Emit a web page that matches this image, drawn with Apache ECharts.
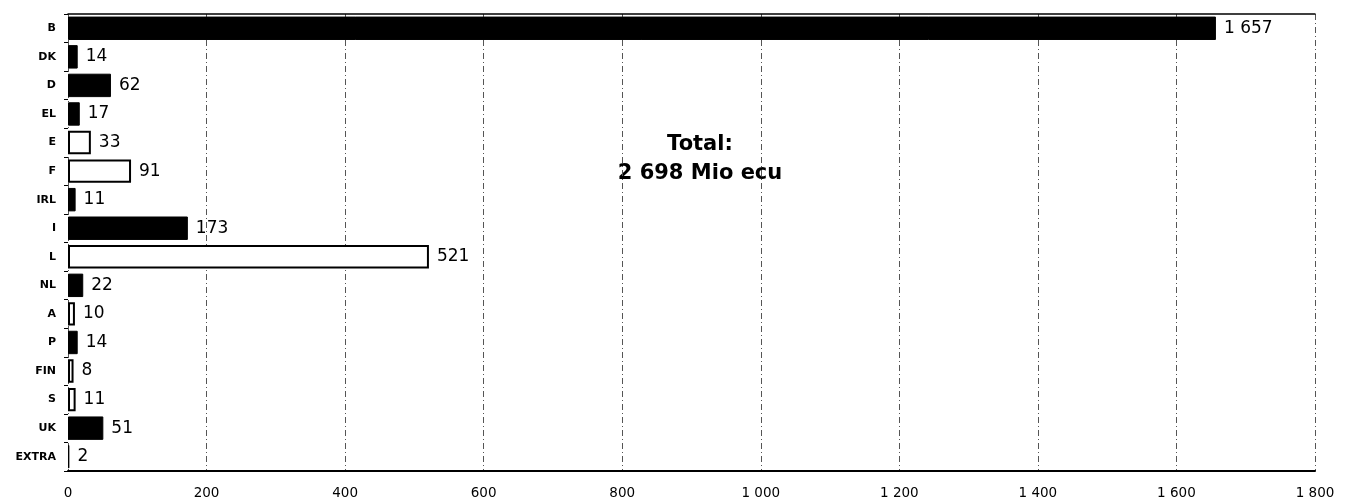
<!DOCTYPE html>
<html>
<head>
<meta charset="utf-8">
<script src="https://cdn.jsdelivr.net/npm/echarts@6/dist/echarts.min.js"></script>
<style>
html,body{margin:0;padding:0;background:#fff;}
#chart{width:1354px;height:502px;}
</style>
</head>
<body>
<div id="chart"></div>
<script>
// Data
var categories = ['B','DK','D','EL','E','F','IRL','I','L','NL','A','P','FIN','S','UK','EXTRA'];
var values = [1657, 14, 62, 17, 33, 91, 11, 173, 521, 22, 10, 14, 8, 11, 51, 2];
var hollowCategories = ['E','F','L','A','FIN','S'];
var xTicks = [0, 200, 400, 600, 800, 1000, 1200, 1400, 1600, 1800];
var totalLines = ['Total:', '2 698 Mio ecu'];

function fmt(v){
  return String(v).replace(/\B(?=(\d{3})+(?!\d))/g, ' ');
}

var seriesData = values.map(function(v, i){
  var hollow = hollowCategories.indexOf(categories[i]) >= 0;
  return {
    value: v,
    itemStyle: hollow ? {color:'#fff', borderColor:'#000', borderWidth:2} : {color:'#000', borderColor:'#000', borderWidth:1}
  };
});

var chart = echarts.init(document.getElementById('chart'), null, {renderer:'canvas'});
chart.setOption({
  animation: false,
  backgroundColor: '#fff',
  grid: {left: 68, right: 39, top: 14, bottom: 31, containLabel: false},
  xAxis: [{
    type: 'value',
    min: xTicks[0], max: xTicks[xTicks.length-1], interval: 200,
    position: 'bottom',
    axisLine: {show: true, lineStyle: {color:'#000', width: 2}},
    axisTick: {show: false},
    axisLabel: {
      color:'#000', fontFamily:'DejaVu Sans', fontSize: 13.5, margin: 15,
      formatter: function(v){ return fmt(v); }
    },
    splitLine: {show: true, lineStyle: {color:'#555', width: 1, type: [6,3,1,3]}}
  },{
    type: 'value',
    min: xTicks[0], max: xTicks[xTicks.length-1], interval: 200,
    position: 'top',
    axisLine: {show: true, lineStyle: {color:'#000', width: 1.5}},
    axisTick: {show: false},
    axisLabel: {show: false},
    splitLine: {show: false}
  }],
  yAxis: {
    type: 'category',
    data: categories,
    inverse: true,
    axisLine: {show: false},
    axisTick: {show: true, length: 4, lineStyle:{color:'#000'}},
    axisLabel: {color:'#000', fontFamily:'DejaVu Sans', fontWeight:'bold', fontSize: 11, margin: 12}
  },
  series: [{
    type: 'bar',
    xAxisIndex: 0,
    data: seriesData,
    barCategoryGap: '18%',
    label: {
      show: true, position: 'right', distance: 8,
      color:'#000', fontFamily:'DejaVu Sans', fontSize: 17,
      formatter: function(p){ return fmt(p.value); }
    }
  }],
  graphic: [{
    type: 'text',
    x: 700, y: 130,
    style: {
      text: totalLines.join('\n'),
      fill: '#000',
      font: 'bold 21px "DejaVu Sans"',
      lineHeight: 29,
      align: 'center',
      verticalAlign: 'top'
    }
  }]
});
</script>
</body>
</html>
